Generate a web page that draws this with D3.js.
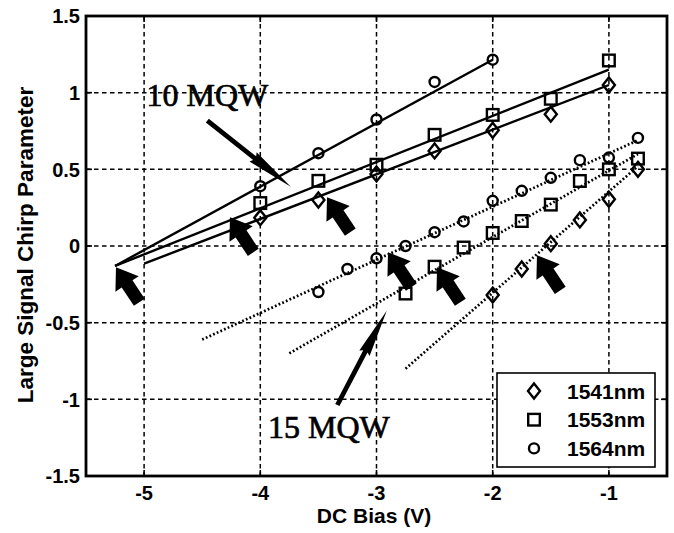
<!DOCTYPE html>
<html>
<head>
<meta charset="utf-8">
<script src="https://cdn.jsdelivr.net/npm/d3@7"></script>
<style>
  html, body { margin: 0; padding: 0; background: #fff; }
  svg { display: block; }
</style>
</head>
<body>
<svg id="chart" width="674" height="533"></svg>
<script>
// Axis ticks
const xTicks = [-5, -4, -3, -2, -1];
const yTicks = [-1.5, -1, -0.5, 0, 0.5, 1, 1.5];

// Wavelengths (legend order)
const wavelengths = ["1541nm", "1553nm", "1564nm"];

// 10 MQW device: measured chirp parameter vs DC bias
const bias10 = [-4, -3.5, -3, -2.5, -2, -1.5, -1];
const chirp10_1541 = [0.185, 0.30, 0.47, 0.62, 0.755, 0.86, 1.05];
const chirp10_1553 = [0.28, 0.425, 0.53, 0.725, 0.855, 0.96, 1.21];
const bias10_1564 = [-4, -3.5, -3, -2.5, -2];
const chirp10_1564 = [0.39, 0.605, 0.825, 1.07, 1.215];

// 15 MQW device
const bias15_1541 = [-2, -1.75, -1.5, -1.25, -1, -0.75];
const chirp15_1541 = [-0.32, -0.15, 0.015, 0.17, 0.305, 0.50];
const bias15_1553 = [-2.75, -2.5, -2.25, -2, -1.75, -1.5, -1.25, -1, -0.75];
const chirp15_1553 = [-0.31, -0.135, -0.01, 0.085, 0.163, 0.27, 0.424, 0.50, 0.57];
const bias15_1564 = [-3.5, -3.25, -3, -2.75, -2.5, -2.25, -2, -1.75, -1.5, -1.25, -1, -0.75];
const chirp15_1564 = [-0.30, -0.15, -0.08, 0.0, 0.09, 0.16, 0.295, 0.36, 0.445, 0.56, 0.577, 0.705];

// Linear fits (end points: [bias, chirp])
const fit10_1541 = [[-5.0, -0.115], [-1, 1.05]];
const fit10_1553 = [[-5.25, -0.13], [-1, 1.15]];
const fit10_1564 = [[-5.25, -0.13], [-2, 1.215]];
const fit15_1541 = [[-2.75, -0.80], [-0.75, 0.52]];
const fit15_1553 = [[-3.75, -0.70], [-0.75, 0.60]];
const fit15_1564 = [[-4.5, -0.61], [-0.75, 0.69]];

// Zero-chirp crossing pointers (arrow tips, data coordinates)
const crossingTips = [[-5.242, -0.139], [-4.261, 0.187], [-3.426, 0.318],
                      [-2.901, -0.041], [-2.479, -0.139], [-1.619, -0.061]];

// Device labels with their pointer arrows (label anchor, arrow tail, arrow tip)
const deviceLabels = ["10 MQW", "15 MQW"];
const deviceLabelAt = [[-4.98, 0.913], [-3.934, -1.252]];
const deviceArrowTail = [[-4.456, 0.817], [-3.337, -1.037]];
const deviceArrowTip = [[-3.738, 0.387], [-2.912, -0.422]];

const margin = { left: 86, right: 7, top: 16, bottom: 57 };
const W = 674, H = 533;
const svg = d3.select("#chart");
svg.append("rect").attr("width", W).attr("height", H).attr("fill", "#fff");

const x = d3.scaleLinear().domain([-5.5, -0.5]).range([margin.left, W - margin.right]);
const y = d3.scaleLinear().domain([-1.5, 1.5]).range([H - margin.bottom, margin.top]);

const sans = "'Liberation Sans', Arial, Helvetica, sans-serif";
const serif = "'Liberation Serif', 'Times New Roman', serif";

// Grid
const grid = svg.append("g").attr("stroke", "#000").attr("stroke-width", 1.5)
  .attr("stroke-dasharray", "4.5,3.5");
xTicks.forEach(t => grid.append("line")
  .attr("x1", x(t)).attr("x2", x(t)).attr("y1", y(1.5)).attr("y2", y(-1.5)));
yTicks.filter(t => t > -1.5 && t < 1.5).forEach(t => grid.append("line")
  .attr("y1", y(t)).attr("y2", y(t)).attr("x1", x(-5.5)).attr("x2", x(-0.5)));

// Fit lines
const line = d3.line().x(d => x(d[0])).y(d => y(d[1]));
[fit10_1541, fit10_1553, fit10_1564].forEach(f => svg.append("path")
  .attr("d", line(f)).attr("fill", "none").attr("stroke", "#000").attr("stroke-width", 2.4));
[fit15_1541, fit15_1553, fit15_1564].forEach(f => svg.append("path")
  .attr("d", line(f)).attr("fill", "none").attr("stroke", "#000").attr("stroke-width", 2.7)
  .attr("stroke-dasharray", "1.8,2.2"));

// Markers
function marker(g, kind, cx, cy) {
  if (kind === 0) {
    g.append("path").attr("d", `M${cx},${cy - 7.5}L${cx + 6},${cy}L${cx},${cy + 7.5}L${cx - 6},${cy}Z`)
      .attr("fill", "none").attr("stroke", "#000").attr("stroke-width", 2.4);
  } else if (kind === 1) {
    g.append("rect").attr("x", cx - 5.8).attr("y", cy - 5.8).attr("width", 11.6).attr("height", 11.6)
      .attr("fill", "none").attr("stroke", "#000").attr("stroke-width", 2.4);
  } else {
    g.append("circle").attr("cx", cx).attr("cy", cy).attr("r", 5)
      .attr("fill", "none").attr("stroke", "#000").attr("stroke-width", 2.4);
  }
}
const series = [
  [0, bias10, chirp10_1541], [1, bias10, chirp10_1553], [2, bias10_1564, chirp10_1564],
  [0, bias15_1541, chirp15_1541], [1, bias15_1553, chirp15_1553], [2, bias15_1564, chirp15_1564]
];
const mg = svg.append("g");
series.forEach(([kind, xs, ys]) => xs.forEach((v, i) => marker(mg, kind, x(v), y(ys[i]))));

// Block arrows at the zero-chirp crossings
const blockArrow = "M0,0L-14,20L-6.5,20L-6.5,42L6.5,42L6.5,20L14,20Z";
crossingTips.forEach(([bx, cy]) => svg.append("path")
  .attr("d", blockArrow).attr("fill", "#000")
  .attr("transform", `translate(${x(bx)},${y(cy)}) rotate(-33.7)`));

// Device labels and pointer arrows
deviceLabels.forEach((lab, i) => {
  svg.append("text").attr("x", x(deviceLabelAt[i][0])).attr("y", y(deviceLabelAt[i][1]))
    .attr("font-family", serif).attr("font-size", 32).attr("fill", "#000")
    .attr("stroke", "#000").attr("stroke-width", 0.7).text(lab);
  const tx = x(deviceArrowTail[i][0]), ty = y(deviceArrowTail[i][1]);
  const hx = x(deviceArrowTip[i][0]), hy = y(deviceArrowTip[i][1]);
  const L = Math.hypot(hx - tx, hy - ty);
  const ang = Math.atan2(hy - ty, hx - tx) * 180 / Math.PI;
  const hl = 46;
  svg.append("path")
    .attr("d", `M0,-2.4L${L - hl},-2.4L${L - hl - 2},-5.8L${L},0L${L - hl - 2},5.8L${L - hl},2.4L0,2.4Z`)
    .attr("fill", "#000")
    .attr("transform", `translate(${tx},${ty}) rotate(${ang})`);
});

// Axes box
svg.append("rect").attr("x", x(-5.5)).attr("y", y(1.5))
  .attr("width", x(-0.5) - x(-5.5)).attr("height", y(-1.5) - y(1.5))
  .attr("fill", "none").attr("stroke", "#000").attr("stroke-width", 2.8);

// Inward ticks on all four sides
const tk = svg.append("g").attr("stroke", "#000").attr("stroke-width", 1.6);
xTicks.forEach(t => {
  tk.append("line").attr("x1", x(t)).attr("x2", x(t)).attr("y1", y(-1.5)).attr("y2", y(-1.5) - 6);
  tk.append("line").attr("x1", x(t)).attr("x2", x(t)).attr("y1", y(1.5)).attr("y2", y(1.5) + 6);
});
yTicks.forEach(t => {
  tk.append("line").attr("y1", y(t)).attr("y2", y(t)).attr("x1", x(-5.5)).attr("x2", x(-5.5) + 6);
  tk.append("line").attr("y1", y(t)).attr("y2", y(t)).attr("x1", x(-0.5)).attr("x2", x(-0.5) - 6);
});

// Tick labels
xTicks.forEach(t => svg.append("text").attr("x", x(t)).attr("y", 500)
  .attr("text-anchor", "middle").attr("font-family", sans).attr("font-weight", "bold")
  .attr("font-size", 20).text(String(t)));
yTicks.forEach(t => svg.append("text").attr("x", 80).attr("y", y(t)).attr("dy", "0.36em")
  .attr("text-anchor", "end").attr("font-family", sans).attr("font-weight", "bold")
  .attr("font-size", 20).text(String(t)));

// Axis titles
svg.append("text").attr("x", 374).attr("y", 523).attr("text-anchor", "middle")
  .attr("font-family", sans).attr("font-weight", "bold").attr("font-size", 21)
  .text("DC Bias (V)");
svg.append("text").attr("transform", "translate(33,245) rotate(-90)").attr("text-anchor", "middle")
  .attr("font-family", sans).attr("font-weight", "bold").attr("font-size", 22.5)
  .text("Large Signal Chirp Parameter");

// Legend
const lg = svg.append("g");
lg.append("rect").attr("x", 497).attr("y", 373).attr("width", 158).attr("height", 94)
  .attr("fill", "#fff").attr("stroke", "#000").attr("stroke-width", 1.6);
wavelengths.forEach((w, i) => {
  const cy = 391 + i * 28.7;
  marker(lg, i, 534, cy);
  lg.append("text").attr("x", 567).attr("y", cy).attr("dy", "0.36em")
    .attr("font-family", sans).attr("font-weight", "bold").attr("font-size", 21).text(w);
});
</script>
</body>
</html>
